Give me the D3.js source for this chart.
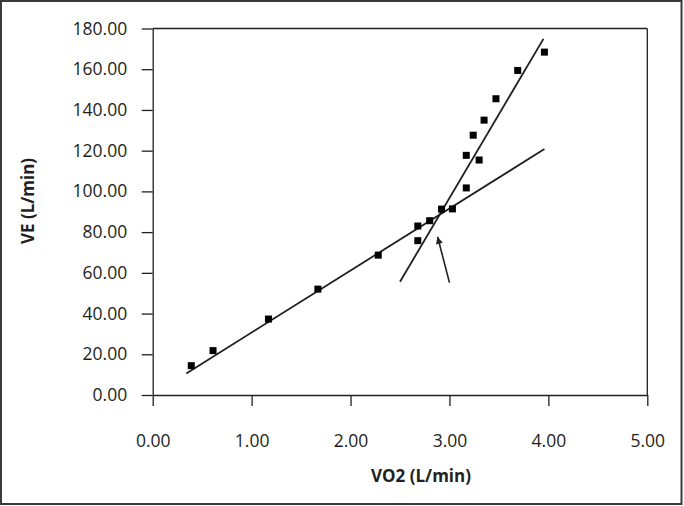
<!DOCTYPE html>
<html>
<head>
<meta charset="utf-8">
<script src="https://cdn.jsdelivr.net/npm/d3@7"></script>
<style>
  html, body { margin: 0; padding: 0; background: #fff; }
  svg { display: block; }
  text { font-family: "Open Sans", sans-serif; fill: #231f20; }
</style>
</head>
<body>
<svg id="chart" width="684" height="506"></svg>
<script>
// ---- data ----
const vo2 = [0.39, 0.61, 1.17, 1.67, 2.28, 2.68, 2.68, 2.80, 2.92, 3.03, 3.17, 3.17, 3.30, 3.24, 3.35, 3.47, 3.69, 3.96];
const ve  = [14.4, 21.8, 37.3, 52.0, 68.7, 83.0, 75.8, 85.6, 91.3, 91.4, 101.7, 117.7, 115.4, 127.6, 135.0, 145.5, 159.4, 168.4];
const lineShallowX = [0.34, 3.96];
const lineShallowY = [10.6, 120.8];
const lineSteepX = [2.50, 3.95];
const lineSteepY = [55.6, 174.9];
const arrowX = [3.00, 2.88];   // tail, head
const arrowY = [55.2, 77.7];
const xTicks = [0, 1, 2, 3, 4, 5];
const yTicks = [0, 20, 40, 60, 80, 100, 120, 140, 160, 180];
const xTitle = "VO2 (L/min)";
const yTitle = "VE (L/min)";

// ---- layout ----
const svg = d3.select("#chart");
const x = d3.scaleLinear().domain([0, 5]).range([152.7, 647.3]);
const y = d3.scaleLinear().domain([0, 180]).range([395, 28.5]);
const ink = "#231f20";

// outer frame
svg.append("rect").attr("x", 1).attr("y", 1).attr("width", 680.5).attr("height", 503)
  .attr("fill", "none").attr("stroke", "#3a3a3a").attr("stroke-width", 2);

// plot frame (top & right)
svg.append("line").attr("x1", x(0)).attr("x2", x(5)).attr("y1", y(180)).attr("y2", y(180))
  .attr("stroke", ink).attr("stroke-width", 1.3);
svg.append("line").attr("x1", x(5)).attr("x2", x(5)).attr("y1", y(180)).attr("y2", y(0))
  .attr("stroke", ink).attr("stroke-width", 1.3);

// axes
const yAxis = d3.axisLeft(y).tickValues(yTicks).tickFormat(d3.format(".2f"))
  .tickSize(11).tickSizeOuter(0).tickPadding(14.5);
const gy = svg.append("g").attr("transform", `translate(${x(0)},0)`).call(yAxis);
const xAxis = d3.axisBottom(x).tickValues(xTicks).tickFormat(d3.format(".2f"))
  .tickSize(11).tickSizeOuter(0).tickPadding(29);
const gx = svg.append("g").attr("transform", `translate(0,${y(0)})`).call(xAxis);
[gx, gy].forEach(g => {
  g.selectAll("path, line").attr("stroke", ink).attr("stroke-width", 1.3);
  g.selectAll("text").attr("font-size", 17.5).attr("font-family", "'Open Sans', sans-serif").attr("fill", ink);
});

// axis titles
svg.append("text").attr("x", 421).attr("y", 482).attr("text-anchor", "middle")
  .attr("font-size", 17).attr("font-weight", "bold").text(xTitle);
svg.append("text").attr("transform", "translate(34,201) rotate(-90)").attr("text-anchor", "middle")
  .attr("font-size", 17).attr("font-weight", "bold").text(yTitle);

// trend lines
const lineGen = d3.line().x(d => x(d[0])).y(d => y(d[1]));
[[lineShallowX, lineShallowY], [lineSteepX, lineSteepY]].forEach(([lx, ly]) => {
  svg.append("path").datum(d3.zip(lx, ly)).attr("d", lineGen)
    .attr("fill", "none").attr("stroke", ink).attr("stroke-width", 1.8);
});

// arrow
svg.append("defs").append("marker").attr("id", "ah")
  .attr("viewBox", "0 0 10 10").attr("refX", 10).attr("refY", 5)
  .attr("markerWidth", 10).attr("markerHeight", 7).attr("markerUnits", "userSpaceOnUse")
  .attr("orient", "auto")
  .append("path").attr("d", "M0,0 L10,5 L0,10 Z").attr("fill", ink);
svg.append("path").datum(d3.zip(arrowX, arrowY)).attr("d", lineGen)
  .attr("fill", "none").attr("stroke", ink).attr("stroke-width", 1.6)
  .attr("marker-end", "url(#ah)");

// points
const s = 7;
svg.append("g").selectAll("rect").data(d3.zip(vo2, ve)).join("rect")
  .attr("x", d => x(d[0]) - s / 2).attr("y", d => y(d[1]) - s / 2)
  .attr("width", s).attr("height", s).attr("fill", "#000");
</script>
</body>
</html>
